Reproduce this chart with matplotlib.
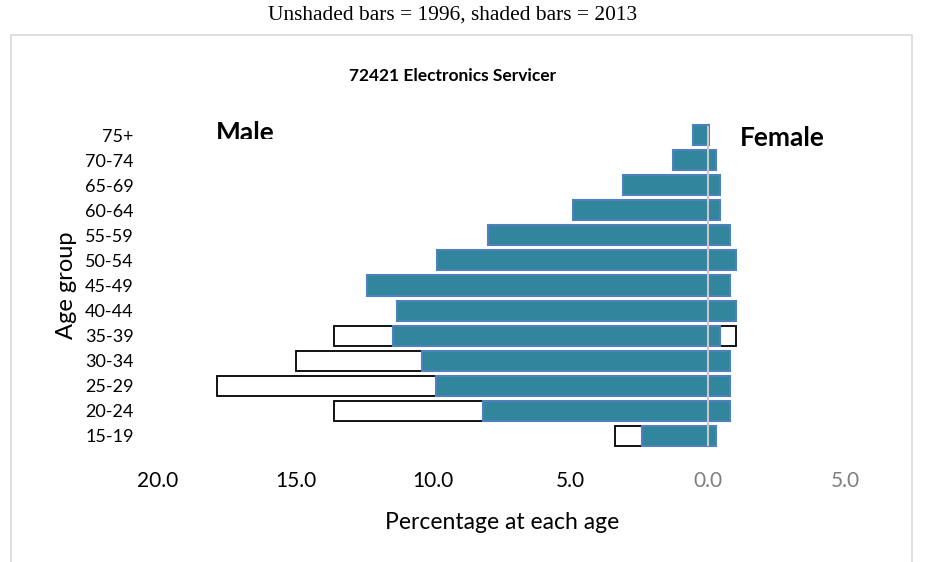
## Age pyramid for one occupation: 1996 (open bars) vs 2013 (shaded bars).

import numpy as np
import matplotlib.pyplot as plt
from matplotlib.patches import Rectangle

## Data (percent of workers in each age group)
ages = ['15-19', '20-24', '25-29', '30-34', '35-39', '40-44', '45-49',
        '50-54', '55-59', '60-64', '65-69', '70-74', '75+']
male_1996 = [3.4, 13.6, 17.85, 15.0, 13.6, 10.5, 9.05, 6.75, 4.05, 0.95, 0.5, 0.3, 0.1]
male_2013 = [2.4, 8.2, 9.9, 10.4, 11.45, 11.3, 12.4, 9.85, 8.0, 4.9, 3.1, 1.28, 0.55]
female_1996 = [0.2, 0.6, 0.6, 0.6, 1.0, 0.8, 0.6, 0.35, 0.35, 0.1, 0.1, 0.05, 0.0]
female_2013 = [0.3, 0.8, 0.8, 0.8, 0.45, 1.0, 0.8, 1.0, 0.8, 0.45, 0.45, 0.3, 0.02]
xticks = [-20, -15, -10, -5, 0, 5]
xtick_labels = ['20.0', '15.0', '10.0', '5.0', '0.0', '5.0']

teal = '#31859c'
edge_blue = '#4f81bd'
label_font = ['Lato', 'DejaVu Sans']

fig = plt.figure(figsize=(9.45, 5.62), dpi=100)
W, H = 945, 562

# light grey chart frame
frame = Rectangle((11 / W, -0.1), (912 - 11) / W, 1.1 - 35 / H, transform=fig.transFigure,
                  fill=False, edgecolor='#d9d9d9', linewidth=1.2)
fig.patches.append(frame)

ax = fig.add_axes([158 / W, 1 - 448.5 / H, (845.5 - 158) / W, 326 / H])
y = np.arange(len(ages))
h = 0.8

# 1996 first, 2013 drawn over it
ax.barh(y, -np.array(male_1996), height=h, color='white', edgecolor='black', linewidth=1.3, zorder=2)
ax.barh(y, female_1996, height=h, color='white', edgecolor='black', linewidth=1.3, zorder=2)
ax.barh(y, -np.array(male_2013), height=h, color=teal, edgecolor=edge_blue, linewidth=1.5, zorder=3)
ax.barh(y, female_2013, height=h, color=teal, edgecolor=edge_blue, linewidth=1.5, zorder=3)
ax.axvline(0, ymin=0.01, ymax=0.985, color='#c8c8c8', linewidth=1.5, zorder=4)

ax.set_xlim(-20, 5)
ax.set_ylim(-0.5, 12.5)
ax.set_xticks(xticks)
ax.set_xticklabels(xtick_labels, family=label_font, fontsize=15)
for lab, c in zip(ax.get_xticklabels(), ['black'] * 4 + ['#7f7f7f'] * 2):
    lab.set_color(c)
ax.set_yticks(y)
ax.set_yticklabels(ages, family=label_font, fontsize=13)
ax.tick_params(axis='x', length=0, pad=16)
ax.tick_params(axis='y', length=0, pad=17.5)
for s in ax.spines.values():
    s.set_visible(False)

ax.set_xlabel('Percentage at each age', family=label_font, fontsize=16.5, labelpad=15)
fig.text(67 / W, 1 - 285 / H, 'Age group', rotation=90, ha='center', va='center',
         family=label_font, fontsize=17)

## Titles
fig.text(453 / W, 1 - 15 / H, 'Unshaded bars = 1996, shaded bars = 2013', ha='center', va='center',
         family=['Liberation Serif', 'DejaVu Serif'], fontsize=15.4)
fig.text(453 / W, 1 - 76 / H, '72421 Electronics Servicer', ha='center', va='center',
         family=label_font, fontsize=12.5, fontweight='bold')

# "Male" gets cut off at the bottom like in the original
male = fig.text(245 / W, 1 - 133 / H, 'Male', ha='center', va='center',
                family=label_font, fontsize=19, fontweight='bold')
clip = Rectangle((0, 1 - 139 / H), 1, 139 / H, transform=fig.transFigure)
male.set_clip_path(clip)
male.set_clip_on(True)
fig.text(782 / W, 1 - 138 / H, 'Female', ha='center', va='center',
         family=label_font, fontsize=19, fontweight='bold')

fig.savefig('out.png', dpi=100)
